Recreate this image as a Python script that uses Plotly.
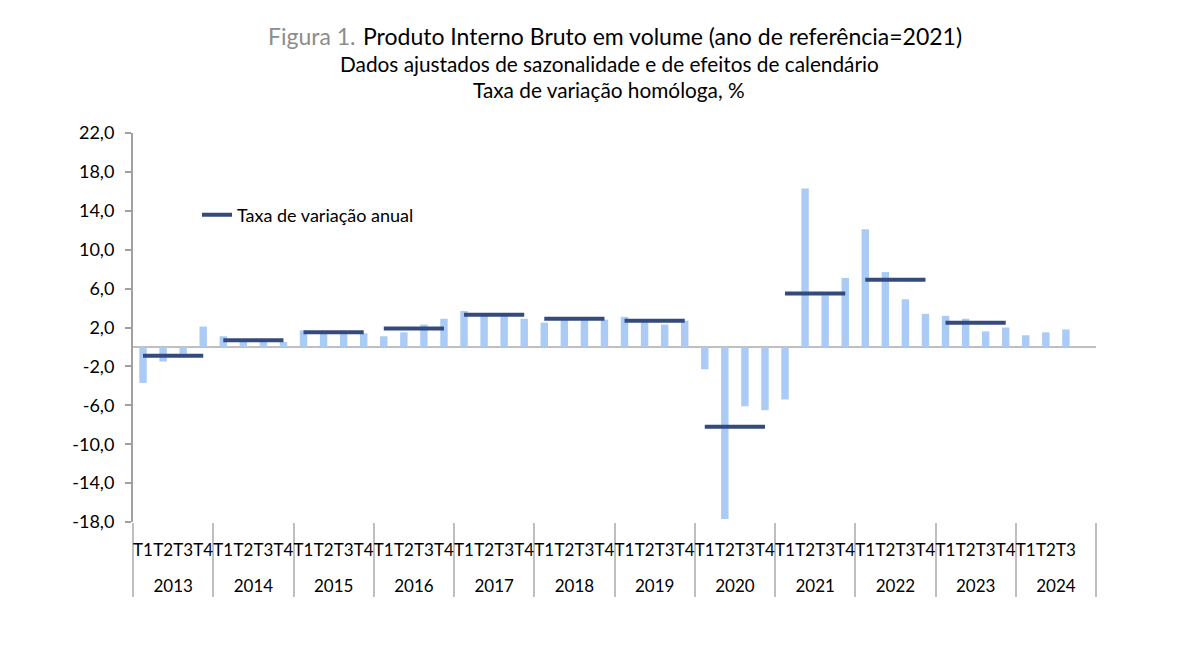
import plotly.graph_objects as go

# Taxa de variação homóloga trimestral (%), 2013T1 .. 2024T3
years = [str(y) for y in range(2013, 2025)]
quarters = ["T1", "T2", "T3", "T4"]
values = [
    -3.7, -1.5, -0.7, 2.1,      # 2013
    1.1, 0.8, 0.7, 0.5,         # 2014
    1.7, 1.4, 1.4, 1.4,         # 2015
    1.1, 1.5, 2.3, 2.9,         # 2016
    3.7, 3.3, 3.2, 2.9,         # 2017
    2.5, 2.8, 2.9, 2.8,         # 2018
    3.1, 2.7, 2.3, 2.7,         # 2019
    -2.3, -17.7, -6.1, -6.5,    # 2020
    -5.4, 16.3, 5.3, 7.1,       # 2021
    12.1, 7.7, 4.9, 3.4,        # 2022
    3.2, 2.9, 1.6, 2.0,         # 2023
    1.2, 1.5, 1.8,              # 2024
]
# taxa de variação anual (2013..2023)
annual = [-0.9, 0.7, 1.5, 1.9, 3.3, 2.9, 2.7, -8.2, 5.5, 6.9, 2.5]
y_ticks = [22, 18, 14, 10, 6, 2, -2, -6, -10, -14, -18]

BAR = "#A9CBF5"
LINE = "#344A7C"
AXIS = "#A0A0A0"
FONT = "Lato"

# quarter labels get a blank (tall) second line so the year row sits lower
PAD = "<br><span style='font-size:42px'>\u00a0</span>"
q_lab = [q + PAD for q in quarters]

n_slots = len(years) * 4
x_year = [years[i // 4] for i in range(n_slots)]
x_q = [q_lab[i % 4] if i < len(values) else "\u00a0" for i in range(n_slots)]
y_bar = values + [None] * (n_slots - len(values))

fig = go.Figure()
fig.add_trace(go.Bar(
    x=[x_year, x_q], y=y_bar,
    marker=dict(color=BAR, line=dict(width=0)),
    showlegend=False, hoverinfo="y",
))

for k, a in enumerate(annual):
    fig.add_trace(go.Scatter(
        x=[[years[k], years[k]], [q_lab[0], q_lab[3]]], y=[a, a],
        mode="lines", line=dict(color=LINE, width=4),
        name="Taxa de variação anual", legendgroup="anual",
        showlegend=(k == 0),
    ))

# the page body has an 8px margin, so the figure is drawn 8px in
OFF = 8
W, H = 1187 - OFF, 657 - OFF
ML, MR, MT, MB = 133 - OFF, 91, 133 - OFF, 135
pw, ph = W - ML - MR, H - MT - MB


def px(x, y):
    # page pixel -> paper fraction
    return (x - OFF - ML) / pw, (H - MB - (y - OFF)) / ph


def fmt(v):
    return f"{v:.1f}".replace(".", ",")


anns = []
for txt, xa, xc, yc, sz, col in [
    ("Figura 1.", "right", 358, 36, 23, "#8C8C8C"),
    ("Produto Interno Bruto em volume (ano de referência=2021)", "left", 361, 36, 23, "black"),
    ("Dados ajustados de sazonalidade e de efeitos de calendário", "center", 609, 63, 20.8, "black"),
    ("Taxa de variação homóloga, %", "center", 609, 89, 20.8, "black"),
]:
    ax, ay = px(xc, yc)
    anns.append(dict(text=txt, x=ax, y=ay, xref="paper", yref="paper",
                     xanchor=xa, yanchor="middle", showarrow=False,
                     font=dict(size=sz, family=FONT, color=col)))

lx, ly = px(197, 215)

fig.update_layout(
    width=W, height=H,
    paper_bgcolor="white", plot_bgcolor="white",
    font=dict(family=FONT, size=14, color="black"),
    bargap=0.63,
    margin=dict(l=ML, r=MR, t=MT, b=MB, autoexpand=False),
    legend=dict(x=lx, y=ly, xanchor="left", yanchor="middle",
                bgcolor="rgba(0,0,0,0)", font=dict(size=18)),
    xaxis=dict(
        type="multicategory", showgrid=False, showline=False, zeroline=False,
        ticks="", tickangle=0, ticklabelstandoff=16,
        showdividers=True, dividercolor="#BFBFBF", dividerwidth=2,
        tickfont=dict(size=17),
    ),
    yaxis=dict(
        range=[-18, 22], tickvals=y_ticks, ticktext=[fmt(v) for v in y_ticks],
        showgrid=False, showline=True, linecolor=AXIS, linewidth=2,
        ticks="outside", ticklen=6, tickcolor=AXIS, tickwidth=2,
        ticklabelstandoff=7,
        zeroline=True, zerolinecolor="#BFBFBF", zerolinewidth=2,
        tickfont=dict(size=18),
    ),
    annotations=anns,
)

fig.write_html("out.html")
